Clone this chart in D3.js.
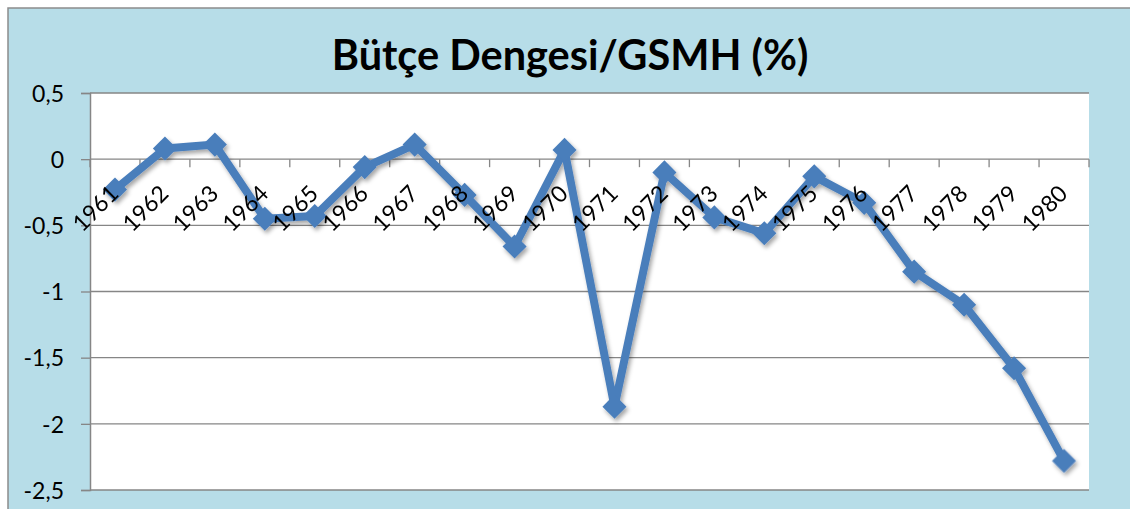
<!DOCTYPE html>
<html>
<head>
<meta charset="utf-8">
<script src="https://cdn.jsdelivr.net/npm/d3@7"></script>
<style>
  html, body { margin: 0; padding: 0; background: #ffffff; }
  svg { display: block; }
</style>
</head>
<body>
<svg id="chart" width="1130" height="509"></svg>
<script>
const years = ['1961','1962','1963','1964','1965','1966','1967','1968','1969','1970',
               '1971','1972','1973','1974','1975','1976','1977','1978','1979','1980'];
const values = [-0.23, 0.08, 0.11, -0.45, -0.43, -0.06, 0.11, -0.27, -0.66, 0.07,
                -1.87, -0.10, -0.44, -0.56, -0.13, -0.33, -0.85, -1.10, -1.58, -2.28];
const yTicks = [0.5, 0, -0.5, -1, -1.5, -2, -2.5];
const yTickLabels = ['0,5', '0', '-0,5', '-1', '-1,5', '-2', '-2,5'];
const title = 'Bütçe Dengesi/GSMH (%)';

const W = 1130, H = 509;
const plot = { left: 90, top: 93, right: 1089, bottom: 490 };
const font = "Lato, 'Open Sans', sans-serif";
const gridColor = '#868686';
const seriesColor = '#4A7EBB';

const svg = d3.select('#chart');

const defs = svg.append('defs');
const f = defs.append('filter').attr('id', 'shadow')
  .attr('x', '-20%').attr('y', '-20%').attr('width', '140%').attr('height', '140%');
f.append('feDropShadow').attr('dx', 2).attr('dy', 3).attr('stdDeviation', 2)
  .attr('flood-color', '#000').attr('flood-opacity', 0.35);

// chart area
svg.append('rect').attr('x', 0).attr('y', 0).attr('width', W).attr('height', H).attr('fill', '#ffffff');
svg.append('rect').attr('x', 8).attr('y', 8).attr('width', W + 10).attr('height', H + 10)
  .attr('fill', '#B7DDE8').attr('stroke', '#8c8c8c').attr('stroke-width', 1.5);

// plot area
svg.append('rect').attr('x', plot.left).attr('y', plot.top)
  .attr('width', plot.right - plot.left).attr('height', plot.bottom - plot.top)
  .attr('fill', '#ffffff');

const x = d3.scaleBand().domain(years).range([plot.left, plot.right]).padding(0);
const y = d3.scaleLinear().domain([-2.5, 0.5]).range([plot.bottom, plot.top]);

// gridlines
svg.append('g').selectAll('line').data(yTicks).join('line')
  .attr('x1', plot.left).attr('x2', plot.right)
  .attr('y1', d => y(d)).attr('y2', d => y(d))
  .attr('stroke', gridColor).attr('stroke-width', 1.3);

// y axis
const yAxis = svg.append('g').attr('transform', `translate(${plot.left},0)`)
  .call(d3.axisLeft(y).tickValues(yTicks).tickFormat((d, i) => yTickLabels[i])
    .tickSize(9).tickPadding(17));
yAxis.select('.domain').attr('stroke', gridColor).attr('stroke-width', 1.5);
yAxis.selectAll('.tick line').attr('stroke', gridColor).attr('stroke-width', 1.3);
yAxis.selectAll('.tick text').attr('fill', '#000').attr('dy', '0.36em')
  .style('font-family', font).style('font-size', '23px');

const y0 = y(0);

// category tick marks at band boundaries
const boundaries = years.map(d => x(d)).concat([x(years[years.length - 1]) + x.bandwidth()]);
svg.append('g').selectAll('line').data(boundaries).join('line')
  .attr('x1', d => d).attr('x2', d => d)
  .attr('y1', y0).attr('y2', y0 + 8)
  .attr('stroke', gridColor).attr('stroke-width', 1.3);

// series
const cx = d => x(d) + x.bandwidth() / 2;
const series = svg.append('g').attr('filter', 'url(#shadow)');
series.append('path')
  .datum(values)
  .attr('d', d3.line().x((d, i) => cx(years[i])).y(d => y(d)))
  .attr('fill', 'none').attr('stroke', seriesColor).attr('stroke-width', 8)
  .attr('stroke-linejoin', 'round');
series.selectAll('path.marker').data(values).join('path')
  .attr('class', 'marker')
  .attr('d', d3.symbol().type(d3.symbolSquare).size(290))
  .attr('transform', (d, i) => `translate(${cx(years[i])},${y(d)}) rotate(45)`)
  .attr('fill', seriesColor);

// x axis labels at zero line (drawn above the series)
const xAxis = svg.append('g').attr('transform', `translate(0,${y0})`)
  .call(d3.axisBottom(x).tickSize(0).tickSizeOuter(0));
xAxis.select('.domain').remove();
xAxis.selectAll('.tick line').remove();
xAxis.selectAll('.tick text')
  .attr('x', 5).attr('y', 36).attr('dy', 0)
  .attr('transform', 'rotate(-45 5 36)')
  .attr('text-anchor', 'end').attr('fill', '#000')
  .style('font-family', font).style('font-size', '23px');

// title
svg.append('text').attr('x', 570).attr('y', 70).attr('text-anchor', 'middle')
  .style('font-family', font).style('font-weight', 'bold').style('font-size', '41.5px')
  .attr('fill', '#000').text(title);
</script>
</body>
</html>
